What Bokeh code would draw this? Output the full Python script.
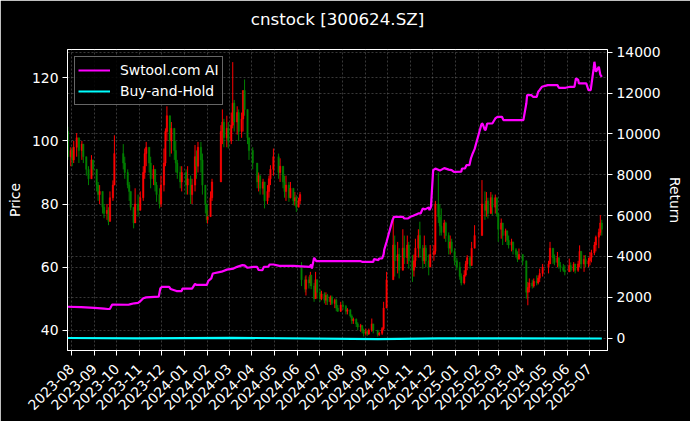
import numpy as np
import pandas as pd
from math import pi
from bokeh.plotting import figure
from bokeh.models import (Range1d, LinearAxis, FixedTicker, Grid, ColumnDataSource,
                          Legend, LegendItem, DatetimeTickFormatter, Title)
from bokeh.embed import file_html
from bokeh.resources import INLINE

# ---------------- data ----------------
title_text = "cnstock [300624.SZ]"
tick_labels = ["2023-08", "2023-09", "2023-10", "2023-11", "2023-12",
               "2024-01", "2024-02", "2024-03", "2024-04", "2024-05", "2024-06",
               "2024-07", "2024-08", "2024-09", "2024-10", "2024-11", "2024-12",
               "2025-01", "2025-02", "2025-03", "2025-04", "2025-05", "2025-06", "2025-07"]
price_ticks = [40, 60, 80, 100, 120]
return_ticks = [0, 2000, 4000, 6000, 8000, 10000, 12000, 14000]

first_day = "2023-07-27"
last_day = "2025-07-18"
holidays = ["2023-09-29", "2023-10-02", "2023-10-03", "2023-10-04", "2023-10-05", "2023-10-06",
            "2024-01-01", "2024-02-09", "2024-02-12", "2024-02-13", "2024-02-14", "2024-02-15",
            "2024-02-16", "2024-04-04", "2024-04-05", "2024-05-01", "2024-05-02", "2024-05-03",
            "2024-06-10", "2024-09-16", "2024-09-17", "2024-10-01", "2024-10-02", "2024-10-03",
            "2024-10-04", "2024-10-07", "2025-01-01", "2025-01-28", "2025-01-29", "2025-01-30",
            "2025-01-31", "2025-02-03", "2025-02-04", "2025-04-04", "2025-05-01", "2025-05-02",
            "2025-05-05", "2025-06-02"]

# candles (high, low, close), about one per two trading days, grouped by month
c_2023_07 = [(104.5, 94, 95), (98, 92, 97)]
c_2023_08 = [(98, 92, 94), (100, 93, 98), (102.5, 95, 101), (101, 93, 97), (100, 94, 99),
             (99, 93, 95), (95, 89, 91), (92, 86, 88), (95.5, 88, 94), (94, 89, 91)]
c_2023_09 = [(90, 84, 86), (87, 81, 83), (86, 80, 84), (83, 77, 79), (80, 75.5, 77),
             (80, 75, 78), (79, 73.3, 74.5), (84, 75, 82), (87.5, 81, 86), (101.8, 88, 96)]
c_2023_10 = [(99, 91, 93), (95, 88, 90), (91, 85, 86), (87, 81, 84), (84, 78, 79),
             (79, 72.3, 74), (85, 74, 80), (83, 76, 78)]
c_2023_11 = [(84, 78.5, 82), (92, 81, 90), (97.6, 88, 96), (99.7, 92, 98), (98, 90, 93),
             (95, 85, 88), (92.3, 86, 91), (91, 84, 86), (87, 80.7, 83), (85, 78.6, 80),
             (89, 79, 86)]
c_2023_12 = [(97.6, 84, 93), (104, 92, 103), (111, 100, 108), (108, 95, 100), (106, 96, 104),
             (104, 94, 97), (100, 90, 93), (94, 88, 90), (92, 85, 87), (92, 84, 90)]
c_2024_01 = [(91, 83, 86), (92, 83, 88), (89, 80, 83), (88, 80, 86), (98.7, 84, 95),
             (97, 88, 92), (99.7, 90, 98), (99.7, 90, 94), (96, 83, 86), (84, 77, 80),
             (80, 74, 75)]
c_2024_02 = [(78, 73.8, 76), (84, 76, 82), (88, 81, 87), (105, 96, 103), (110, 99, 106),
             (107, 98, 101), (108, 98, 104), (106, 97.6, 100)]
c_2024_03 = [(109, 99, 105), (125, 104, 112), (113, 103, 106), (111, 102, 109), (110, 100, 103),
             (109, 101, 107), (116, 103, 116), (119.5, 108, 110), (110, 99, 101), (101, 94, 97)]
c_2024_04 = [(98, 91, 93), (92, 85, 87), (90, 84, 89), (89, 83, 85), (88, 83, 87),
             (87, 78.6, 81), (86, 80, 84), (89, 82, 88), (92.3, 86, 91), (97.6, 89, 95)]
c_2024_05 = [(96, 88, 90), (94.5, 87, 92), (92, 85, 87), (89, 82, 84), (89, 81, 86),
             (87, 80.7, 82), (87, 81.8, 85), (84, 79.6, 81), (83.8, 79.5, 82), (82.8, 77.5, 79)]
c_2024_06 = [(82, 79, 81), (83.8, 80, 83), (61.6, 54, 56), (57, 52, 53), (57.4, 51, 56),
             (57, 53.2, 55), (58.5, 54, 57.5), (57, 53, 54), (55, 49, 50), (58.5, 50, 56),
             (56, 50, 52)]
c_2024_07 = [(53, 49, 50), (52.5, 49.5, 51.5), (52, 48.5, 49.5), (52, 48, 51), (51.5, 48, 49),
             (51, 48, 50.5), (51, 48, 48.5), (50, 47, 49.5), (50, 46, 47), (48, 45.8, 46),
             (49, 45.8, 48)]
c_2024_08 = [(49.2, 46.5, 47.5), (48, 45, 46), (47, 45, 46.5), (46.5, 44, 44.5), (45, 42, 43),
             (44, 42, 43.5), (43.7, 41, 42), (42.5, 40, 41), (42, 39.5, 41.5), (41.6, 39, 40),
             (40.5, 38, 39)]
c_2024_09 = [(40.5, 38.3, 39.5), (40, 38.2, 38.8), (40.5, 38.5, 40), (43.7, 39.5, 42),
             (42, 39, 40), (40, 38, 38.6), (39.5, 38.2, 39), (41, 38.5, 40.5), (49, 40, 47),
             (58.5, 47, 56)]
c_2024_10 = [(76, 57, 67), (70, 57, 62), (68, 58, 64), (66, 56.4, 59), (72, 59.5, 66),
             (70, 61, 63), (70, 61, 67), (68, 59.5, 62)]
c_2024_11 = [(63.8, 55.3, 59), (64, 57, 62), (69, 60, 66), (72, 63, 70), (74.4, 63, 66),
             (67, 59.5, 62), (70, 61, 66), (67, 60, 62), (64, 57.4, 60), (67, 60, 64)]
c_2024_12 = [(67, 62, 65), (81, 64, 80), (90, 74, 76), (80, 70, 73), (78.6, 70, 71),
             (75, 69, 74), (74.4, 68, 70), (71, 64, 66), (70, 64, 68), (69, 64.5, 65),
             (66, 60.6, 62)]
c_2025_01 = [(63, 59, 60), (61.6, 56, 57), (58, 54.2, 55), (59, 54.5, 57.5), (62, 57, 61),
             (63.8, 59, 63), (63.5, 59.5, 60.5), (68, 61.6, 66), (73.3, 66, 70)]
c_2025_02 = [(87.6, 70, 80), (84, 75, 78), (83.8, 76, 81), (82, 75.4, 77), (83.8, 77, 82),
             (83, 76.5, 79), (83, 77, 82), (81, 76, 77), (77, 68, 72)]
c_2025_03 = [(75.4, 69, 74), (74, 67, 70), (72.2, 68, 71.5), (71.5, 67, 68.5), (70, 65.9, 67),
             (69, 65, 68), (68, 64, 65.5), (66, 63, 64), (65, 61.6, 62.5), (65.9, 62.5, 64)]
c_2025_04 = [(63.8, 60.6, 62), (57.4, 50, 52), (55.3, 47.9, 53.5), (56.4, 52, 55),
             (56, 53.2, 54), (56.4, 53.5, 55.5), (57.4, 54.2, 55), (57.4, 54.5, 56.5),
             (59.5, 55.3, 58), (61, 57, 60)]
c_2025_05 = [(62, 58, 61), (68, 61, 66), (66, 61, 63), (64, 60.6, 61.5), (64.8, 60, 63),
             (63, 59.5, 60.5), (61.6, 58.5, 60), (61, 58.5, 59), (60.6, 57.4, 58.5)]
c_2025_06 = [(62.7, 58.5, 60.5), (61.5, 58.5, 59), (61.6, 58.5, 61), (61, 58, 59),
             (62, 58.5, 61), (66.9, 60, 65), (64, 59.5, 61), (63.8, 58.5, 62.5), (63.8, 60, 61),
             (63, 60, 62)]
c_2025_07 = [(64.8, 60.6, 63), (65.5, 61.5, 64.5), (68, 63.8, 67), (70, 65, 69.5),
             (72.2, 66, 71), (76.5, 70, 74), (75, 70, 72)]

candle_months = [("2023-07", c_2023_07), ("2023-08", c_2023_08), ("2023-09", c_2023_09),
                 ("2023-10", c_2023_10), ("2023-11", c_2023_11), ("2023-12", c_2023_12),
                 ("2024-01", c_2024_01), ("2024-02", c_2024_02), ("2024-03", c_2024_03),
                 ("2024-04", c_2024_04), ("2024-05", c_2024_05), ("2024-06", c_2024_06),
                 ("2024-07", c_2024_07), ("2024-08", c_2024_08), ("2024-09", c_2024_09),
                 ("2024-10", c_2024_10), ("2024-11", c_2024_11), ("2024-12", c_2024_12),
                 ("2025-01", c_2025_01), ("2025-02", c_2025_02), ("2025-03", c_2025_03),
                 ("2025-04", c_2025_04), ("2025-05", c_2025_05), ("2025-06", c_2025_06),
                 ("2025-07", c_2025_07)]
# opens that do not follow the previous close (first bar, ex-rights gap)
open_overrides = {("2023-07", 0): 103.0, ("2024-06", 2): 60.0}

# strategy return (Swtool.com AI)
ret_dates = ["2023-07-27", "2023-08-14", "2023-09-01", "2023-09-14", "2023-09-19", "2023-09-22",
             "2023-09-25", "2023-10-17", "2023-10-20", "2023-10-25", "2023-10-30", "2023-11-02",
             "2023-11-06", "2023-11-10", "2023-11-27", "2023-11-29", "2023-12-01", "2023-12-11",
             "2023-12-13", "2023-12-21", "2023-12-28", "2023-12-29", "2024-01-11", "2024-01-15",
             "2024-01-17", "2024-01-31", "2024-02-02", "2024-02-06", "2024-02-08", "2024-02-20",
             "2024-02-27", "2024-03-07", "2024-03-12", "2024-03-19", "2024-03-22", "2024-03-26",
             "2024-04-03", "2024-04-08", "2024-04-10", "2024-04-15", "2024-04-17", "2024-04-23",
             "2024-04-25", "2024-04-30", "2024-05-08", "2024-05-27", "2024-06-18", "2024-06-20",
             "2024-06-21", "2024-06-24", "2024-06-27", "2024-08-26", "2024-08-28", "2024-09-12",
             "2024-09-13", "2024-09-19", "2024-09-20", "2024-09-24", "2024-09-26", "2024-09-27",
             "2024-09-30", "2024-10-08", "2024-10-10", "2024-10-22", "2024-10-24", "2024-10-29",
             "2024-11-01", "2024-11-05", "2024-11-12", "2024-11-15", "2024-11-18", "2024-11-21",
             "2024-11-26", "2024-11-27", "2024-11-29", "2024-12-02", "2024-12-05", "2024-12-11",
             "2024-12-17", "2024-12-23", "2024-12-27", "2024-12-30", "2025-01-09", "2025-01-10",
             "2025-01-14", "2025-01-16", "2025-01-20", "2025-01-22", "2025-01-24", "2025-01-27",
             "2025-02-05", "2025-02-06", "2025-02-07", "2025-02-10", "2025-02-11", "2025-02-13",
             "2025-02-20", "2025-02-24", "2025-02-27", "2025-03-05", "2025-03-07", "2025-04-03",
             "2025-04-07", "2025-04-08", "2025-04-14", "2025-04-16", "2025-04-21", "2025-04-23",
             "2025-04-25", "2025-04-28", "2025-05-06", "2025-05-19", "2025-05-21", "2025-05-30",
             "2025-06-05", "2025-06-11", "2025-06-13", "2025-06-16", "2025-06-17", "2025-06-27",
             "2025-06-30", "2025-07-03", "2025-07-07", "2025-07-08", "2025-07-09", "2025-07-10",
             "2025-07-11", "2025-07-14", "2025-07-16", "2025-07-18"]
ret_values = [1530, 1510, 1480, 1440, 1420, 1430,
              1640, 1630, 1660, 1700, 1720, 1800,
              1950, 1990, 2030, 2420, 2500, 2500,
              2400, 2300, 2300, 2420, 2420, 2650,
              2600, 2600, 2800, 2920, 3160, 3250,
              3350, 3400, 3486, 3570, 3560, 3440,
              3486, 3480, 3330, 3320, 3486, 3500,
              3600, 3600, 3535, 3535, 3486, 3600,
              3400, 3927, 3764, 3764, 3731, 3731,
              3862, 3813, 3894, 3900, 4100, 4350,
              4712, 5773, 5937, 5937, 5855, 5855,
              5937, 5990, 6100, 6100, 6345, 6300,
              6400, 6263, 6427, 8222, 8300, 8200,
              8320, 8250, 8220, 8140, 8150, 8303,
              8303, 8467, 8467, 8793, 9000, 9250,
              10430, 10508, 10480, 10182, 10200, 10508,
              10508, 10753, 10835, 10835, 10672, 10672,
              11500, 11895, 11895, 11814, 11814, 12060,
              12150, 12305, 12386, 12386, 12256, 12256,
              12305, 12305, 12713, 12650, 12468, 12468,
              12142, 12142, 13203, 13530, 13300, 13040,
              13100, 13285, 12900, 12795]

# buy-and-hold return (stays at the zero line on this scale)
bh_dates = ["2023-07-27", "2023-10-31", "2024-03-05", "2024-09-18", "2024-12-09", "2025-07-18"]
bh_values = [0, -20, 10, -58, -15, -25]

# ---------------- build candles ----------------
days = pd.bdate_range(first_day, last_day)
days = days[~days.isin(pd.to_datetime(holidays))]
month_keys = days.strftime("%Y-%m")
rows = []
prev_close = None
for month, cands in candle_months:
    mdays = days[month_keys == month]
    N, n = len(mdays), len(cands)
    for k, (h, l, c) in enumerate(cands):
        d = mdays[min(N - 1, int((k + 0.5) * N / n))]
        o = open_overrides.get((month, k), prev_close)
        rows.append((d, o, max(h, o, c), min(l, o, c), c))
        prev_close = c
df = pd.DataFrame(rows, columns=["date", "open", "high", "low", "close"])
df["top"] = df[["open", "close"]].max(axis=1)
df["bottom"] = df[["open", "close"]].min(axis=1)
df["color"] = np.where(df["close"] >= df["open"], "#ff0000", "#008000")
src = ColumnDataSource(df)

ret_src = ColumnDataSource(dict(x=pd.to_datetime(ret_dates), y=ret_values))
bh_src = ColumnDataSource(dict(x=pd.to_datetime(bh_dates), y=bh_values))

# ---------------- figure ----------------
FONT = "DejaVu Sans"
p = figure(width=690, height=421, x_axis_type="datetime", output_backend="svg",
           toolbar_location=None,
           x_range=Range1d(pd.Timestamp("2023-07-26 14:00"), pd.Timestamp("2025-07-25 17:00")),
           y_range=Range1d(33.56, 129.0),
           min_border_left=67, min_border_right=83, min_border_top=49, min_border_bottom=71)
p.extra_y_ranges = {"ret": Range1d(-612, 14132)}

p.background_fill_color = "black"
p.border_fill_color = "black"
p.outline_line_color = "white"
p.outline_line_width = 1

# empty spacer between the title and the frame
p.add_layout(Title(text=" ", text_font_size="2px", standoff=17, text_color="black"), "above")

p.title.text = title_text
p.title.align = "center"
p.title.vertical_align = "bottom"
p.title.text_color = "white"
p.title.text_font = FONT
p.title.text_font_size = "16.7px"
p.title.text_font_style = "normal"
p.title.standoff = 0

tick_ms = [pd.Timestamp(t + "-01").value / 1e6 for t in tick_labels]
p.xaxis.ticker = FixedTicker(ticks=tick_ms)
p.xaxis.formatter = DatetimeTickFormatter(months="%Y-%m", days="%Y-%m", years="%Y-%m",
                                          hours="%Y-%m", minutes="%Y-%m")
p.xaxis.major_label_orientation = pi / 4
p.yaxis.ticker = FixedTicker(ticks=price_ticks)
p.yaxis.axis_label = "Price"

right = LinearAxis(y_range_name="ret", ticker=FixedTicker(ticks=return_ticks), axis_label="Return")
p.add_layout(right, "right")

for ax in [p.xaxis[0], p.yaxis[0], right]:
    ax.axis_line_color = "white"
    ax.major_tick_line_color = "white"
    ax.major_tick_out = 5
    ax.major_tick_in = 0
    ax.minor_tick_out = 0
    ax.minor_tick_in = 0
    ax.major_label_text_color = "white"
    ax.major_label_text_font = FONT
    ax.major_label_text_font_size = "13.9px"
    ax.major_label_standoff = 4
    ax.axis_label_text_color = "white"
    ax.axis_label_text_font = FONT
    ax.axis_label_text_font_size = "13.9px"
    ax.axis_label_text_font_style = "normal"
    ax.axis_label_standoff = 6
p.xaxis.major_label_standoff = 11
right.axis_label_standoff = 3

grid_kw = dict(grid_line_color="#808080", grid_line_alpha=0.55, grid_line_dash="2 2",
               grid_line_width=0.8)
p.xgrid.ticker = FixedTicker(ticks=tick_ms)
p.ygrid.ticker = FixedTicker(ticks=price_ticks)
for g in [p.xgrid[0], p.ygrid[0]]:
    for k, v in grid_kw.items():
        setattr(g, k, v)
rgrid = Grid(dimension=1, ticker=FixedTicker(ticks=return_ticks), y_range_name="ret", **grid_kw)
p.add_layout(rgrid)

# candles
p.segment(x0="date", y0="high", x1="date", y1="low", color="color", line_width=1, source=src)
p.vbar(x="date", width=1.8 * 86400000, top="top", bottom="bottom", fill_color="color",
       line_color="color", line_width=0.5, source=src)

r_ai = p.line("x", "y", source=ret_src, y_range_name="ret", line_color="#ff00ff", line_width=2.2)
r_bh = p.line("x", "y", source=bh_src, y_range_name="ret", line_color="#00ffff", line_width=2.2)

legend = Legend(items=[LegendItem(label="Swtool.com AI", renderers=[r_ai]),
                       LegendItem(label="Buy-and-Hold", renderers=[r_bh])],
                location="top_left", margin=7, padding=3, spacing=1,
                glyph_width=32, glyph_height=20, label_height=20, label_standoff=10,
                label_text_color="white", label_text_font=FONT, label_text_font_size="13.9px",
                background_fill_color="black", background_fill_alpha=0.85,
                border_line_color="#cccccc", border_line_width=1)
p.add_layout(legend)

open("out.html", "w").write(file_html(p, INLINE, title=title_text))
